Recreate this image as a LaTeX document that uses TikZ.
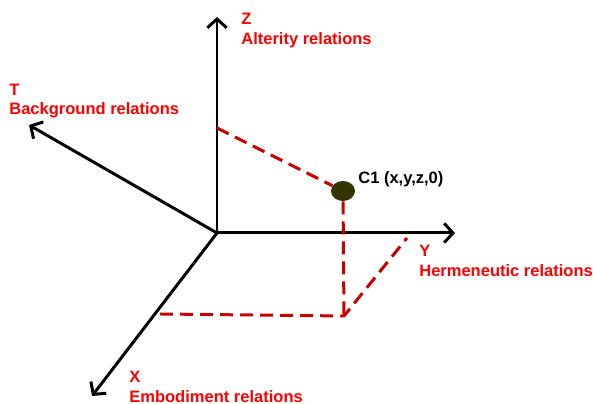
\documentclass[tikz,border=0pt]{standalone}
\usepackage{fontspec}
\setmainfont{Liberation Sans}
\usetikzlibrary{shapes.geometric, arrows.meta, positioning}

\definecolor{lblred}{RGB}{255,0,0}
\definecolor{dashred}{RGB}{200,0,0}
\definecolor{dotolive}{RGB}{51,51,0}

\tikzset{
    axis/.style={line width=1.7pt, -{Straight Barb[length=5pt,width=11pt,line width=1.7pt]}},
    guide/.style={line width=1.7pt, dashred, dash pattern=on 7.4pt off 4pt},
    lbl/.style={anchor=base west, inner sep=0pt, text=lblred, font=\bfseries\fontsize{9.4}{11.4}\selectfont},
}

\begin{document}
\begin{tikzpicture}[x=0.02cm, y=-0.02cm]
    \useasboundingbox (0,0) rectangle (593,404);

    % axes
    \coordinate (origin) at (217,233);
    \coordinate (ztip) at (217,17);
    \coordinate (ytip) at (455,233);
    \coordinate (ttip) at (29,125);
    \coordinate (xtip) at (92,396);
    \draw[axis] (origin) -- (ztip);
    \draw[axis] (origin) -- (ytip);
    \draw[axis] (origin) -- (ttip);
    \draw[axis] (origin) -- (xtip);

    % projections of the point
    \node[ellipse, fill=dotolive, minimum width=0.48cm, minimum height=0.4cm, inner sep=0pt] (c1) at (343,191) {};
    \coordinate (zfoot) at (217,128);
    \coordinate (floor) at (344,316);
    \coordinate (xfoot) at (160,314);
    \coordinate (yfoot) at (407,238);
    \draw[guide] (zfoot) -- (c1);
    \draw[guide] (c1) -- (344,320);
    \draw[guide] (xfoot) -- (floor) -- (yfoot);

    \node[lbl, text=black] (c1name) at (358,184) {C1 (x,y,z,0)};

    \node[lbl] (zname) at (241,25) {Z};
    \node[lbl] (zrel) at (241,45) {Alterity relations};

    \node[lbl] (tname) at (9,96) {T};
    \node[lbl] (trel) at (9,115) {Background relations};

    \node[lbl] (yname) at (419,257) {Y};
    \node[lbl] (yrel) at (419,277) {Hermeneutic relations};

    \node[lbl] (xname) at (129,383) {X};
    \node[lbl] (xrel) at (129,403) {Embodiment relations};
\end{tikzpicture}
\end{document}
